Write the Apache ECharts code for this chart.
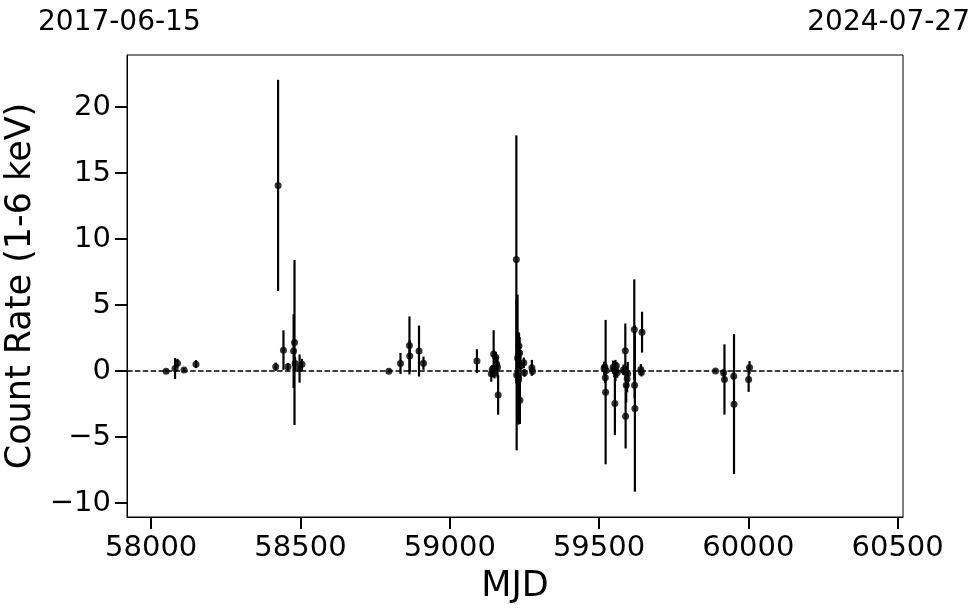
<!DOCTYPE html>
<html><head><meta charset="utf-8">
<script src="https://cdn.jsdelivr.net/npm/echarts@6/dist/echarts.min.js"></script>
<style>html,body{margin:0;padding:0;background:#fff}#c{width:980px;height:613px}</style>
</head><body><div id="c"></div>
<script>
const mjd = [58048,58078,58086,58108,58148,
  58415,58423,58441,58456,58475,58478,58480,58495,58503,
  58794,58833,58863,58864,58895,58910,
  59089,59137,59140,59145,59148,59152,59155,59158,59160,
  59221,59222,59225,59228,59230,59232,59233,59235,59246,59248,59273,59275,
  59515,59517,59519,59520,59522,
  59545,59549,59551,59553,59556,59559,
  59580,59583,59586,59587,59589,59592,59594,
  59616,59617,59618,
  59638,59640,59642,
  59888,59915,59918,59949,59950,59999,60002];
const rate = [0.0,0.2,0.6,0.08,0.53,
  0.33,14.07,1.59,0.33,1.52,2.17,0.58,0.2,0.53,
  0.0,0.58,1.95,1.14,1.52,0.6,
  0.76,-0.2,0.1,1.3,-0.15,1.05,0.55,0.3,-1.8,
  8.46,-0.3,1.0,-0.55,1.9,1.38,-2.2,0.38,0.63,-0.13,0.25,0.0,
  0.2,0.33,-0.5,-1.59,0.05,
  0.3,0.15,-2.45,0.05,0.4,-0.1,
  0.1,0.0,1.54,-3.41,-1.06,-0.6,-0.2,
  3.16,-1.06,-2.83,
  0.13,-0.1,2.95,
  0.02,-0.13,-0.63,-0.38,-2.5,-0.63,0.28];
const err = [0.1,0.8,0.33,0.15,0.3,
  0.32,8.0,1.5,0.3,2.8,6.25,0.5,1.07,0.4,
  0.1,0.8,2.2,1.2,1.93,0.5,
  0.9,0.6,0.35,1.8,0.4,0.4,0.5,0.8,1.5,
  9.4,5.7,4.8,3.5,1.0,1.2,1.8,1.2,0.4,0.3,0.6,0.3,
  0.5,0.4,0.4,5.47,0.3,
  0.5,0.6,2.4,0.8,0.3,0.4,
  0.4,0.3,2.07,2.45,1.3,1.0,0.9,
  3.79,1.0,6.3,
  0.4,0.3,1.55,
  0.1,0.3,2.66,0.3,5.3,0.94,0.48];
const xTicks = [58000,58500,59000,59500,60000,60500];
const yTicks = [-10,-5,0,5,10,15,20];
const topLabels = ['2017-06-15','2024-07-27'];

const F = 'DejaVu Sans';
const data = mjd.map((m,i)=>[m+2, rate[i], err[i]]);
const chart = echarts.init(document.getElementById('c'), null, {renderer:'canvas'});
chart.setOption({
  animation:false,
  backgroundColor:'#fff',
  grid:{left:127, top:55, right:77, bottom:96, show:true, borderColor:'#000', borderWidth:1, backgroundColor:'transparent', outerBoundsMode:'none', containLabel:false},
  graphic:[
    {type:'text', left:38, top:9, style:{text:topLabels[0], font:'28px "DejaVu Sans"', fill:'#000'}},
    {type:'text', right:10, top:9, style:{text:topLabels[1], font:'28px "DejaVu Sans"', fill:'#000'}}
  ],
  xAxis:{type:'value', min:57919, max:60518, name:'MJD', nameLocation:'middle', nameGap:52,
    nameTextStyle:{fontFamily:F, fontSize:35, color:'#000'},
    axisLine:{show:true, onZero:false, lineStyle:{color:'#000', width:1}},
    axisTick:{show:true, length:12, lineStyle:{color:'#000', width:2}, customValues:xTicks},
    axisLabel:{fontFamily:F, fontSize:29, color:'#000', margin:17, customValues:xTicks, formatter:v=>String(v)},
    splitLine:{show:false}},
  yAxis:{type:'value', min:-11.05, max:23.95, name:'Count Rate (1-6 keV)', nameLocation:'middle', nameGap:81,
    nameTextStyle:{fontFamily:F, fontSize:35, color:'#000'},
    axisLine:{show:true, onZero:false, lineStyle:{color:'#000', width:1}},
    axisTick:{show:true, length:12, lineStyle:{color:'#000', width:2}, customValues:yTicks},
    axisLabel:{fontFamily:F, fontSize:29, color:'#000', margin:16, customValues:yTicks, formatter:v=>String(v).replace('-','\u2212')},
    splitLine:{show:false}},
  series:[
    {type:'custom', data:data, encode:{x:0,y:1}, z:2, silent:true,
     renderItem:function(params, api){
       const x=api.value(0), y=api.value(1), e=api.value(2);
       const p1=api.coord([x,y+e]), p2=api.coord([x,y-e]);
       return {type:'line', shape:{x1:p1[0],y1:p1[1],x2:p2[0],y2:p2[1]}, style:{stroke:'#000', lineWidth:2.2}};
     }},
    {type:'scatter', data:data.map(d=>[d[0],d[1]]), symbol:'circle', symbolSize:7, z:3, silent:true,
     itemStyle:{color:'#000'},
     markLine:{silent:true, symbol:['none','none'], label:{show:false}, data:[{yAxis:0}],
       lineStyle:{color:'#000', type:[5.5,2.4], width:1.5}}}
  ]
});
</script></body></html>
